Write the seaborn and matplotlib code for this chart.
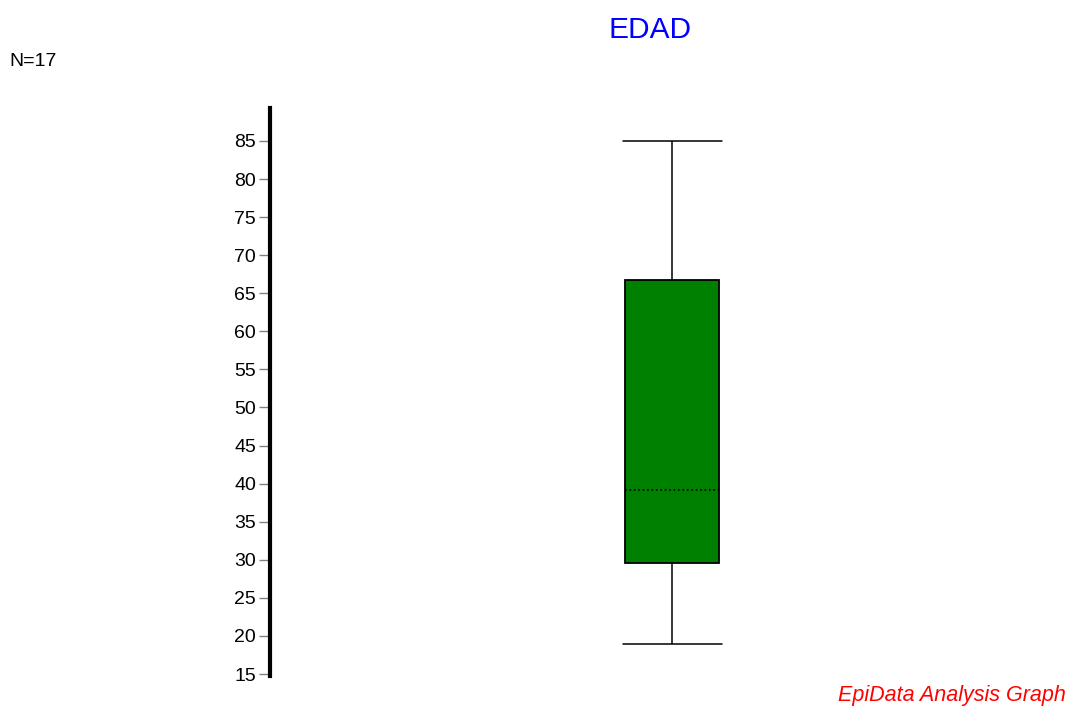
import matplotlib
matplotlib.use("Agg")
import matplotlib.pyplot as plt
import seaborn as sns
import pandas as pd

# Five-number summary of EDAD (N=17)
stat_names = ["min", "q1", "median", "q3", "max"]
edad_summary = [19.0, 29.6, 39.2, 66.7, 85.0]
n_obs = 17
y_ticks = [15, 20, 25, 30, 35, 40, 45, 50, 55, 60, 65, 70, 75, 80, 85]

sns.set_theme(style="white")
plt.rcParams["font.family"] = ["Liberation Sans", "DejaVu Sans"]

df = pd.DataFrame({"EDAD": edad_summary, "stat": stat_names})

fig = plt.figure(figsize=(10.69, 7.07), dpi=100)
ax = fig.add_axes([270 / 1069, 1 - 676 / 707, 799 / 1069, 568 / 707])

box_w = 0.236
sns.boxplot(
    data=df, y="EDAD", ax=ax, width=box_w, whis=(0, 100),
    color="#008000", saturation=1, linecolor="black", linewidth=1.1,
    showfliers=False,
    medianprops=dict(color="black", linestyle=":", linewidth=1.2),
    boxprops=dict(facecolor="#008000", edgecolor="black", linewidth=1.3),
)

# widen the caps a little past the box
cap_half = 0.1231
for ln in ax.lines:
    xd = list(ln.get_xdata())
    yd = list(ln.get_ydata())
    if len(xd) == 2 and yd[0] == yd[1] and yd[0] in (edad_summary[0], edad_summary[-1]):
        ln.set_xdata([-cap_half, cap_half])
    elif len(xd) == 2 and yd[0] == yd[1] and abs(yd[0] - edad_summary[2]) < 1e-6:
        ln.set_xdata([-box_w / 2, cap_half])

ax.set_xlim(-1.0, 0.9875)
ax.set_ylim(14.74, 89.33)
ax.set_yticks(y_ticks)
ax.set_yticklabels([str(t) for t in y_ticks], fontsize=14, color="black")
ax.set_xticks([])
ax.set_xlabel("")
ax.set_ylabel("")
ax.tick_params(axis="y", which="major", direction="out", length=8, width=1,
               color="#808080", pad=2, left=True)
for side in ["top", "right", "bottom"]:
    ax.spines[side].set_visible(False)
ax.spines["left"].set_linewidth(3.0)
ax.spines["left"].set_color("black")
ax.patch.set_alpha(0)

fig.text(650 / 1069, 1 - 30 / 707, "EDAD", color="#0000FF", fontsize=21.5,
         ha="center", va="center")
fig.text(9 / 1069, 1 - 62 / 707, f"N={n_obs}", color="black", fontsize=14,
         ha="left", va="center")
fig.text(1066 / 1069, 1 - 696 / 707, "EpiData Analysis Graph", color="#FF0000",
         fontsize=15.5, style="italic", ha="right", va="center")

fig.savefig("out.png", dpi=100, facecolor="white")
